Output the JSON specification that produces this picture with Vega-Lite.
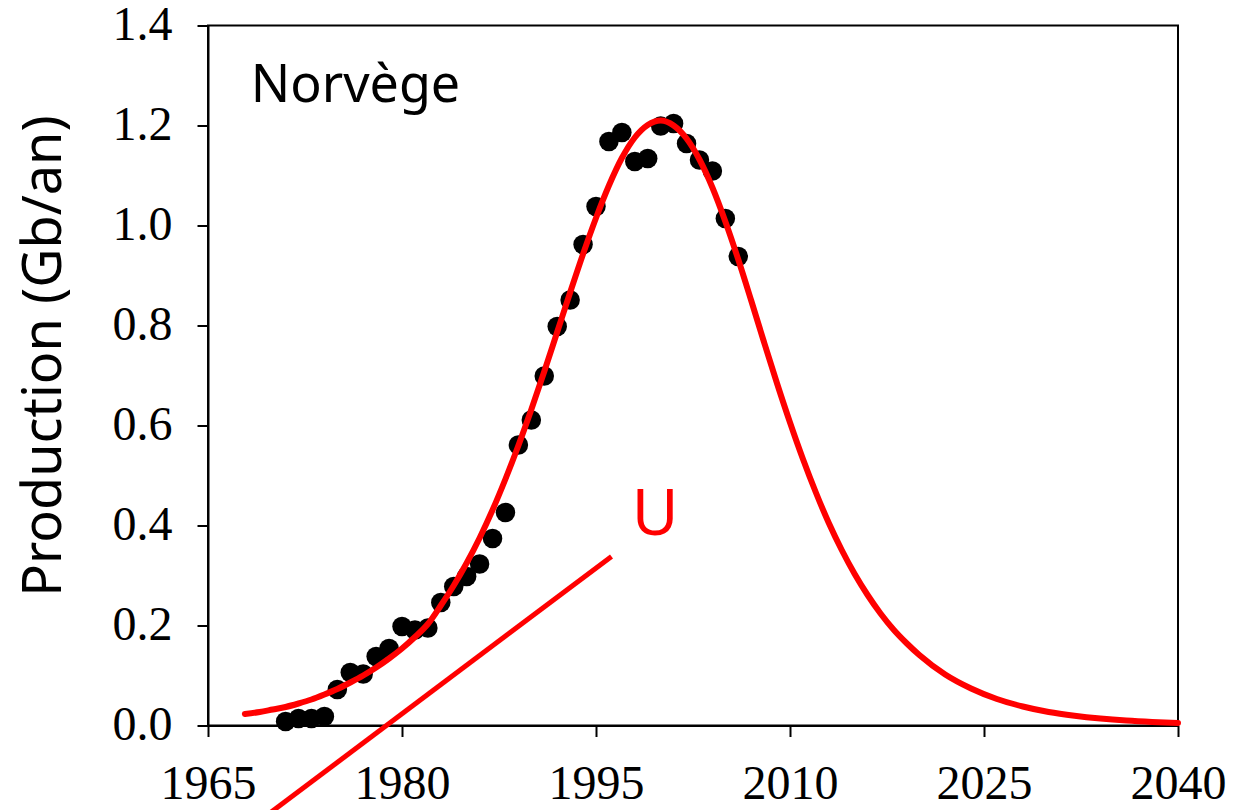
{
  "$schema": "https://vega.github.io/schema/vega-lite/v6.json",
  "autosize": "none",
  "width": 970,
  "height": 700,
  "padding": {"left": 208, "top": 25.5, "right": 56, "bottom": 84.5},
  "background": "white",
  "config": {
    "view": {"stroke": "black", "strokeWidth": 2},
    "axis": {
      "grid": false,
      "domainColor": "black",
      "domainWidth": 2,
      "tickColor": "black",
      "tickWidth": 2,
      "tickSize": 11,
      "labelFont": "Liberation Serif",
      "labelFontSize": 48,
      "labelColor": "black",
      "titleColor": "black"
    }
  },
  "datasets": {
    "obs": [
      {"year": 1971, "value": 0.008}, {"year": 1972, "value": 0.014}, {"year": 1973, "value": 0.014},
      {"year": 1974, "value": 0.018}, {"year": 1975, "value": 0.072}, {"year": 1976, "value": 0.106},
      {"year": 1977, "value": 0.103}, {"year": 1978, "value": 0.138}, {"year": 1979, "value": 0.154},
      {"year": 1980, "value": 0.198}, {"year": 1981, "value": 0.191}, {"year": 1982, "value": 0.195},
      {"year": 1983, "value": 0.246}, {"year": 1984, "value": 0.278}, {"year": 1985, "value": 0.298},
      {"year": 1986, "value": 0.323}, {"year": 1987, "value": 0.374}, {"year": 1988, "value": 0.426},
      {"year": 1989, "value": 0.561}, {"year": 1990, "value": 0.611}, {"year": 1991, "value": 0.699},
      {"year": 1992, "value": 0.798}, {"year": 1993, "value": 0.851}, {"year": 1994, "value": 0.962},
      {"year": 1995, "value": 1.038}, {"year": 1996, "value": 1.168}, {"year": 1997, "value": 1.186},
      {"year": 1998, "value": 1.128}, {"year": 1999, "value": 1.134}, {"year": 2000, "value": 1.199},
      {"year": 2001, "value": 1.204}, {"year": 2002, "value": 1.164}, {"year": 2003, "value": 1.131},
      {"year": 2004, "value": 1.109}, {"year": 2005, "value": 1.014}, {"year": 2006, "value": 0.938}
    ],
    "fit": [
      {"year": 1967.85, "value": 0.023}, {"year": 1969, "value": 0.027}, {"year": 1970, "value": 0.032},
      {"year": 1971, "value": 0.037}, {"year": 1972, "value": 0.044}, {"year": 1973, "value": 0.052},
      {"year": 1974, "value": 0.062}, {"year": 1975, "value": 0.073}, {"year": 1976, "value": 0.086},
      {"year": 1977, "value": 0.100}, {"year": 1978, "value": 0.116}, {"year": 1979, "value": 0.134},
      {"year": 1980, "value": 0.154}, {"year": 1981, "value": 0.177}, {"year": 1982, "value": 0.203},
      {"year": 1983, "value": 0.240}, {"year": 1984, "value": 0.280}, {"year": 1985, "value": 0.325},
      {"year": 1986, "value": 0.375}, {"year": 1987, "value": 0.431}, {"year": 1988, "value": 0.493},
      {"year": 1989, "value": 0.560}, {"year": 1990, "value": 0.632}, {"year": 1991, "value": 0.708},
      {"year": 1992, "value": 0.787}, {"year": 1993, "value": 0.866}, {"year": 1994, "value": 0.943},
      {"year": 1995, "value": 1.015}, {"year": 1996, "value": 1.080}, {"year": 1997, "value": 1.135},
      {"year": 1998, "value": 1.176}, {"year": 1999, "value": 1.201}, {"year": 2000, "value": 1.210},
      {"year": 2001, "value": 1.200}, {"year": 2002, "value": 1.174}, {"year": 2003, "value": 1.132},
      {"year": 2004, "value": 1.076}, {"year": 2005, "value": 1.008}, {"year": 2006, "value": 0.932},
      {"year": 2007, "value": 0.850}, {"year": 2008, "value": 0.766}, {"year": 2009, "value": 0.684},
      {"year": 2010, "value": 0.606}, {"year": 2011, "value": 0.533}, {"year": 2012, "value": 0.466},
      {"year": 2013, "value": 0.405}, {"year": 2014, "value": 0.351}, {"year": 2015, "value": 0.303},
      {"year": 2016, "value": 0.261}, {"year": 2017, "value": 0.224}, {"year": 2018, "value": 0.192},
      {"year": 2019, "value": 0.165}, {"year": 2020, "value": 0.141}, {"year": 2022, "value": 0.102},
      {"year": 2024, "value": 0.074}, {"year": 2026, "value": 0.053}, {"year": 2028, "value": 0.038},
      {"year": 2030, "value": 0.027}, {"year": 2032, "value": 0.0195}, {"year": 2034, "value": 0.014},
      {"year": 2036, "value": 0.010}, {"year": 2038, "value": 0.0072}, {"year": 2040, "value": 0.0052}
    ],
    "tangent": [
      {"year": 1968.5, "value": -0.2},
      {"year": 1996.2, "value": 0.338}
    ],
    "labels": [
      {"year": 1968.3, "value": 1.247, "text": "Norvège", "kind": "country"},
      {"year": 1999.57, "value": 0.381, "text": "U", "kind": "u"}
    ]
  },
  "encoding": {
    "x": {
      "field": "year", "type": "quantitative",
      "scale": {"domain": [1965, 2040], "nice": false, "zero": false},
      "axis": {"values": [1965, 1980, 1995, 2010, 2025, 2040], "format": "d", "title": null, "labelPadding": 24, "labelFlush": false}
    },
    "y": {
      "field": "value", "type": "quantitative",
      "scale": {"domain": [0, 1.4], "nice": false},
      "axis": {
        "values": [0, 0.2, 0.4, 0.6, 0.8, 1.0, 1.2, 1.4], "format": ".1f",
        "labelPadding": 25, "labelFlush": false,
        "title": "Production (Gb/an)", "titleFont": "Noto Sans", "titleFontSize": 54,
        "titleFontWeight": "normal", "titleAngle": -90, "titleAlign": "center",
        "titleBaseline": "middle", "titleX": -164, "titleY": 330
      }
    }
  },
  "layer": [
    {
      "data": {"name": "obs"},
      "mark": {"type": "circle", "color": "black", "opacity": 1, "size": 380}
    },
    {
      "data": {"name": "fit"},
      "mark": {"type": "line", "color": "#ff0000", "strokeWidth": 6, "interpolate": "monotone", "strokeCap": "round"}
    },
    {
      "data": {"name": "tangent"},
      "mark": {"type": "line", "color": "#ff0000", "strokeWidth": 5, "clip": false}
    },
    {
      "data": {"name": "labels"},
      "transform": [{"filter": "datum.kind == 'country'"}],
      "mark": {"type": "text", "font": "Noto Sans", "fontSize": 52, "align": "left", "baseline": "alphabetic", "color": "black"},
      "encoding": {"text": {"field": "text"}}
    },
    {
      "data": {"name": "labels"},
      "transform": [{"filter": "datum.kind == 'u'"}],
      "mark": {"type": "text", "font": "Noto Sans", "fontSize": 64, "align": "center", "baseline": "alphabetic", "color": "#ff0000"},
      "encoding": {"text": {"field": "text"}}
    }
  ]
}
